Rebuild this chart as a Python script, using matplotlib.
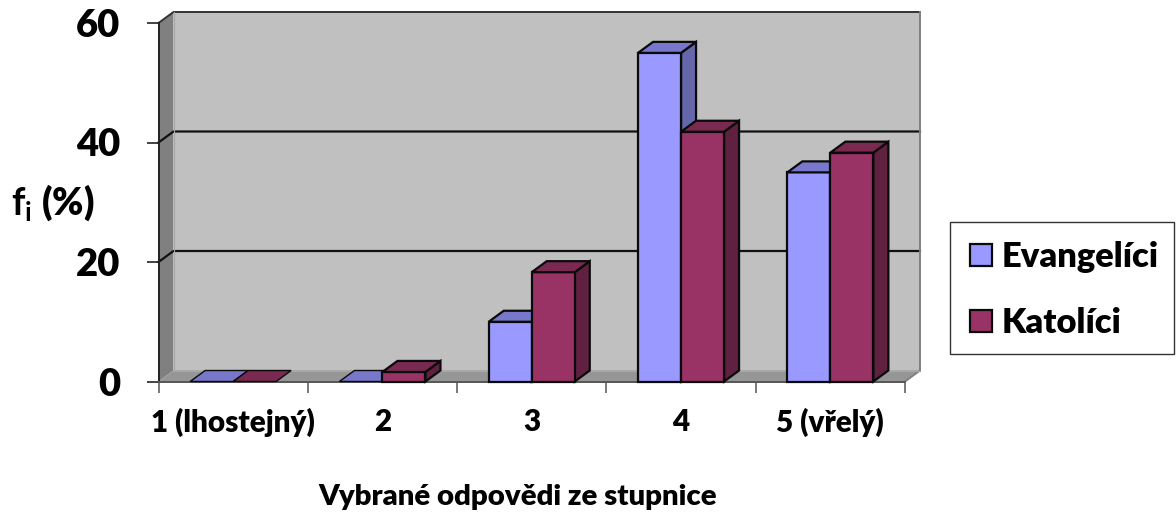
import numpy as np
import matplotlib
matplotlib.use('Agg')
import matplotlib.pyplot as plt
from matplotlib.patches import Polygon, Patch, Rectangle

categories = ['1 (lhostejný)', '2', '3', '4', '5 (vřelý)']
evangelici = [0, 0, 10, 55, 35]
katolici = [0, 1.6, 18.3, 41.8, 38.3]
series_names = ['Evangelíci', 'Katolíci']
y_ticks = [0, 20, 40, 60]

plt.rcParams['font.family'] = ['Lato', 'DejaVu Sans']
plt.rcParams['font.weight'] = 'bold'
plt.rcParams['mathtext.fontset'] = 'custom'
plt.rcParams['mathtext.bf'] = 'Lato:bold'
plt.rcParams['mathtext.rm'] = 'Lato:bold'

W, H = 1176, 513
fig = plt.figure(figsize=(W / 100, H / 100), dpi=100)
left, right, top, bottom = 158.5, 905, 23, 381.5
ax = fig.add_axes([left / W, 1 - bottom / H, (right - left) / W, (bottom - top) / H])
ax.set_xlim(0, len(categories))
ax.set_ylim(0, 60)

# depth of the fake 3d box, in data units
dx = 15 / ((right - left) / len(categories))
dy = 11 / ((bottom - top) / 60)
n = len(categories)


def poly(pts, color, ec='none', lw=0, z=1):
    ax.add_patch(Polygon(pts, closed=True, facecolor=color, edgecolor=ec, linewidth=lw,
                         zorder=z, clip_on=False, joinstyle='miter'))


# walls and floor
poly([(dx, dy), (n + dx, dy), (n + dx, 60 + dy), (dx, 60 + dy)], '#c0c0c0', z=1)
poly([(0, 0), (dx, dy), (dx, 60 + dy), (0, 60)], '#808080', z=1)
poly([(0, 0), (n, 0), (n + dx, dy), (dx, dy)], '#969696', z=1)

for v in y_ticks[1:-1]:
    ax.plot([0, dx, n + dx], [v, v + dy, v + dy], color='#111111', lw=1.6, zorder=2, clip_on=False)
ax.plot([0, dx, n + dx], [60, 60 + dy, 60 + dy], color='#333333', lw=1.4, zorder=2, clip_on=False)
ax.plot([n + dx, n + dx, n], [60 + dy, dy, 0], color='#808080', lw=1.4, zorder=2, clip_on=False)
ax.plot([dx, dx, n + dx], [60 + dy, dy, dy], color='#a8a8a8', lw=0.8, zorder=2, clip_on=False)

bar_w = 43 / ((right - left) / n)
styles = [('#9999ff', '#7777cc', '#6666aa'), ('#993366', '#7a2950', '#602040')]
edge = '#0a0a0a'
z = 3
for i in range(n):
    for s, vals in enumerate([evangelici, katolici]):
        x0 = i + 0.5 - bar_w + s * bar_w
        x1 = x0 + bar_w
        v = vals[i]
        front, topc, side = styles[s]
        if v > 0:
            poly([(x1, 0), (x1 + dx, dy), (x1 + dx, v + dy), (x1, v)], side, edge, 1.6, z)
            poly([(x0, 0), (x1, 0), (x1, v), (x0, v)], front, edge, 1.6, z)
        poly([(x0, v), (x1, v), (x1 + dx, v + dy), (x0 + dx, v + dy)], topc,
             edge, 1.6 if v > 0 else 1.0, z)
        z += 1

# axes
for name in ['top', 'right']:
    ax.spines[name].set_visible(False)
ax.spines['left'].set_color('#222222')
ax.spines['left'].set_linewidth(1.4)
ax.spines['bottom'].set_color('#555555')
ax.spines['bottom'].set_linewidth(1.4)
ax.spines['left'].set_zorder(2)
ax.spines['bottom'].set_zorder(2)

ax.set_yticks(y_ticks)
ax.set_yticklabels([str(v) for v in y_ticks], fontsize=27.5, fontweight='heavy')
ax.tick_params(axis='y', length=9, width=1.1, color='#111111', pad=18.5)

ax.set_xticks(np.arange(n + 1))
ax.set_xticklabels([])
ax.tick_params(axis='x', which='major', length=8, width=1.1, color='#555555')
ax.set_xticks(np.arange(n) + 0.5, minor=True)
ax.set_xticklabels(categories, minor=True, fontsize=21.3, fontweight='heavy')
ax.tick_params(axis='x', which='minor', length=0, pad=19)

fig.text(518 / W, 1 - 497 / H, 'Vybrané odpovědi ze stupnice', fontsize=21.2, fontweight='heavy',
         ha='center', va='center')
fig.text(53 / W, 1 - 203 / H, r'$\mathbf{f_i}$ (%)', fontsize=27, fontweight='heavy',
         ha='center', va='center')

# legend box is drawn apart so its size can be set exactly
fig.add_artist(Rectangle((950 / W, 1 - 354 / H), 224 / W, 132 / H, transform=fig.transFigure,
                         facecolor='white', edgecolor='#333333', linewidth=1.0))
handles = [Patch(facecolor=styles[k][0], edgecolor=edge, linewidth=1.6, label=series_names[k]) for k in range(2)]
fig.legend(handles=handles, loc='upper left', bbox_to_anchor=(953 / W, 1 - 224 / H), bbox_transform=fig.transFigure,
           borderaxespad=0, frameon=False,
           handlelength=0.62, handleheight=0.62, handletextpad=0.3, labelspacing=0.99, borderpad=0.5,
           prop={'family': 'Lato', 'weight': 'heavy', 'size': 24.8})

fig.savefig('out.png', dpi=100)
